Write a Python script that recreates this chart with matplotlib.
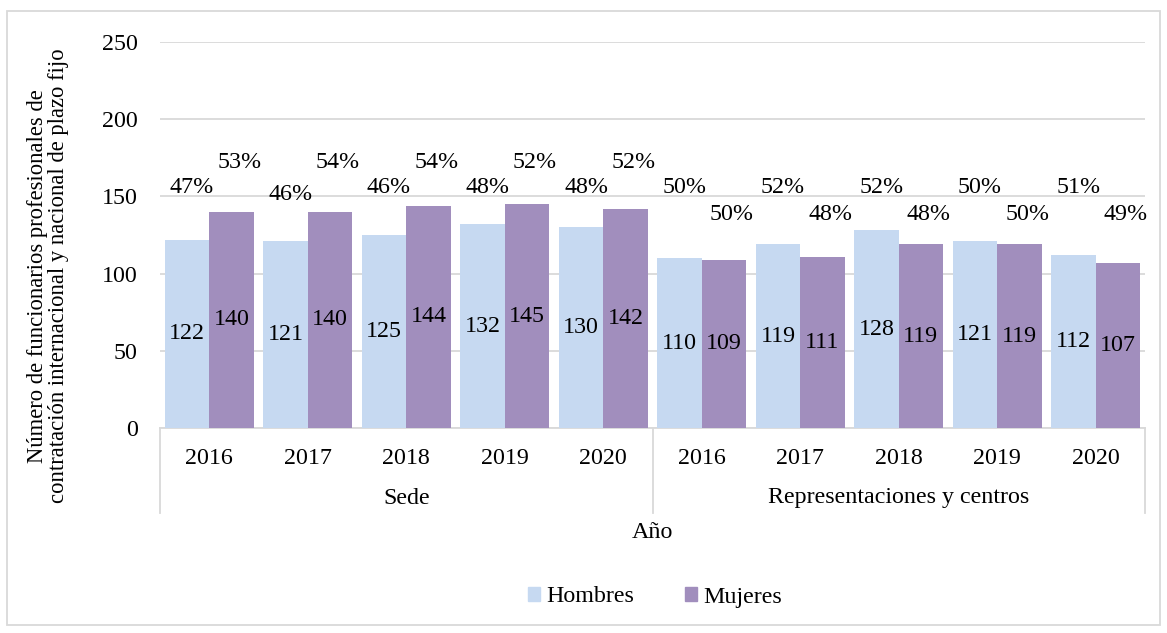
import matplotlib
matplotlib.use("Agg")
import matplotlib.pyplot as plt
import matplotlib.transforms as mtransforms
from matplotlib.patches import Rectangle, Patch
from matplotlib.lines import Line2D

# ---- data ----
years = ["2016", "2017", "2018", "2019", "2020", "2016", "2017", "2018", "2019", "2020"]
groups = ["Sede", "Representaciones y centros"]
hombres = [122, 121, 125, 132, 130, 110, 119, 128, 121, 112]
mujeres = [140, 140, 144, 145, 142, 109, 111, 119, 119, 107]
hombres_pct = [47, 46, 46, 48, 48, 50, 52, 52, 50, 51]
mujeres_pct = [53, 54, 54, 52, 52, 50, 48, 48, 50, 49]

# label placement (layout)
hombres_pct_y = [156, 151.5, 156, 156, 156, 156, 156, 156, 156, 156]
mujeres_pct_y = [172, 172, 172, 172, 172, 138.6, 138.6, 138.6, 138.6, 138.6]

c_h = "#C6D9F1"
c_m = "#A18EBD"
grid_c = "#D9D9D9"
fs = 17.3

plt.rcParams['font.family'] = ['Liberation Serif', 'DejaVu Serif']

fig = plt.figure(figsize=(11.67, 6.33), dpi=100)
W, H = 1167, 633
ax = fig.add_axes([160 / W, 1 - 428 / H, (1145 - 160) / W, (428 - 42) / H])

n = len(years)
x = list(range(n))
bw = 0.45
xh = [i - bw / 2 for i in x]
xm = [i + bw / 2 for i in x]
ax.bar(xh, hombres, width=bw, color=c_h, zorder=3)
ax.bar(xm, mujeres, width=bw, color=c_m, zorder=3)

for i in range(n):
    ax.text(xh[i], hombres[i] / 2, str(hombres[i]), ha="center", va="center", fontsize=fs, zorder=4)
    ax.text(xm[i], mujeres[i] / 2, str(mujeres[i]), ha="center", va="center", fontsize=fs, zorder=4)
    ax.text(xh[i] + 0.05, hombres_pct_y[i], f"{hombres_pct[i]}%", ha="center", va="center", fontsize=fs, zorder=4)
    ax.text(xm[i] + 0.08, mujeres_pct_y[i], f"{mujeres_pct[i]}%", ha="center", va="center", fontsize=fs, zorder=4)

ax.set_xlim(-0.5, n - 0.5)
ax.set_ylim(0, 250)
ax.set_yticks([0, 50, 100, 150, 200, 250])
ax.yaxis.grid(True, color=grid_c, linewidth=1.3, zorder=0)
ax.set_axisbelow(True)
for s in ["top", "right", "left"]:
    ax.spines[s].set_visible(False)
ax.spines["bottom"].set_color(grid_c)
ax.spines["bottom"].set_linewidth(1.3)
ax.tick_params(axis="y", length=0, pad=16, labelsize=fs)
ax.set_xticks([])

trans = mtransforms.blended_transform_factory(ax.transData, ax.transAxes)
axh = 428 - 42
for i in range(n):
    ax.text(x[i], -30 / axh, years[i], transform=trans, ha="center", va="center", fontsize=fs)
ax.text(2, -70 / axh, groups[0], transform=trans, ha="center", va="center", fontsize=fs)
ax.text(7, -70 / axh, groups[1], transform=trans, ha="center", va="center", fontsize=fs)
for xs in [-0.5, 4.5, 9.5]:
    ax.add_line(Line2D([xs, xs], [0, -85 / axh], transform=trans, color=grid_c, linewidth=1.3, clip_on=False))
ax.text(4.5, -105 / axh, "Año", transform=trans, ha="center", va="center", fontsize=fs)

fig.text(48 / W, 1 - 276 / H,
         "Número de funcionarios profesionales de\ncontratación internacional y nacional de plazo fijo",
         rotation=90, ha="center", va="center", fontsize=16.3, linespacing=1.05)

handles = [Patch(color=c_h, label="Hombres"), Patch(color=c_m, label="Mujeres")]
fig.legend(handles=handles, loc="center", bbox_to_anchor=(655 / W, 1 - 597 / H), ncol=2,
           frameon=False, fontsize=fs, handlelength=0.5, handleheight=0.5, handletextpad=0.25,
           columnspacing=2.1)

fig.add_artist(Rectangle((7 / W, 1 - 625 / H), (1160 - 7) / W, (625 - 11) / H,
                         transform=fig.transFigure, fill=False, edgecolor=grid_c, linewidth=1.3))

fig.savefig("out.png", dpi=100)
